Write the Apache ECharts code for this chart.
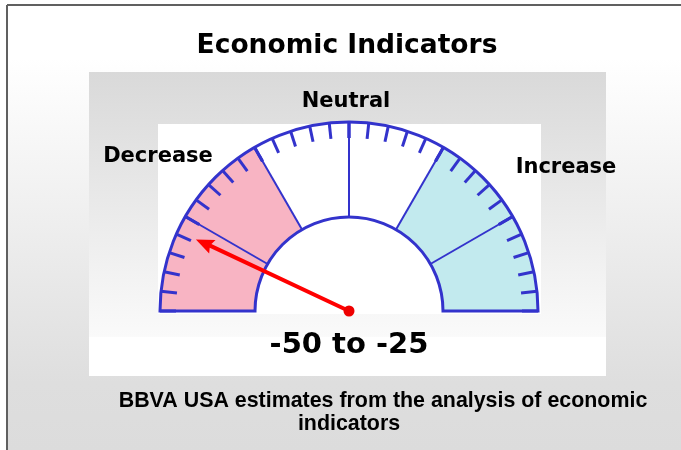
<!DOCTYPE html>
<html><head><meta charset="utf-8">
<script src="https://cdn.jsdelivr.net/npm/echarts@6/dist/echarts.min.js"></script>
<style>html,body{margin:0;padding:0;background:#fff;overflow:hidden}#c{width:681px;height:450px}</style>
</head><body><div id="c"></div>
<script>
const titleText = 'Economic Indicators';
const zoneLabels = ['Decrease', 'Neutral', 'Increase'];
const scaleMin = -75;
const scaleMax = 75;
const zoneEnds = [-25, 25, 75];
const zoneColors = ['#f8b4c3', '#ffffff', '#c2eaee'];
const majorSplits = 6;
const minorSplits = 5;
const needleValue = -54;
const rangeLabel = '-50 to -25';
const footnoteLines = ['BBVA USA estimates from the analysis of economic', 'indicators'];

const chart = echarts.init(document.getElementById('c'), null, {renderer: 'canvas'});
const blue = '#3333cc';
const cx = 349, cy = 311, R = 189, band = 95;
const stops = zoneEnds.map((v, i) => [(v - scaleMin) / (scaleMax - scaleMin), zoneColors[i]]);
const off = {show: false};
const base = {
  type: 'gauge', center: [cx, cy], radius: R, startAngle: 180, endAngle: 0,
  min: scaleMin, max: scaleMax, splitNumber: majorSplits
};
const vGrad = (stopsArr) => ({type: 'linear', x: 0, y: 0, x2: 0, y2: 1,
  colorStops: stopsArr.map(s => ({offset: s[0], color: s[1]}))});

chart.setOption({
  animation: false,
  graphic: [
    {type: 'rect', z: -10, shape: {x: 7, y: 5, width: 674, height: 445},
      style: {fill: vGrad([[0, '#ffffff'], [0.12, '#ffffff'], [0.85, '#dedede'], [1, '#dcdcdc']])}},
    {type: 'line', z: -9, shape: {x1: 7, y1: 5, x2: 7, y2: 450}, style: {stroke: '#606060', lineWidth: 2}},
    {type: 'line', z: -9, shape: {x1: 7, y1: 5, x2: 681, y2: 5}, style: {stroke: '#606060', lineWidth: 2}},
    {type: 'rect', z: -8, shape: {x: 89, y: 72, width: 517, height: 304},
      style: {fill: vGrad([[0, '#d9d9d9'], [0.87, '#fafafa'], [0.871, '#ffffff'], [1, '#ffffff']])}},
    {type: 'rect', z: -7, shape: {x: 158, y: 124, width: 383, height: 190}, style: {fill: '#ffffff'}},
    {type: 'text', z: 1, style: {text: titleText, x: 347, y: 46, textAlign: 'center', textVerticalAlign: 'middle',
      font: 'bold 26.5px "DejaVu Sans"', fill: '#000'}},
    {type: 'text', z: 1, style: {text: zoneLabels[1], x: 346, y: 102, textAlign: 'center', textVerticalAlign: 'middle',
      font: 'bold 21px "DejaVu Sans"', fill: '#000'}},
    {type: 'text', z: 1, style: {text: zoneLabels[0], x: 158, y: 157, textAlign: 'center', textVerticalAlign: 'middle',
      font: 'bold 21px "DejaVu Sans"', fill: '#000'}},
    {type: 'text', z: 1, style: {text: zoneLabels[2], x: 566, y: 168, textAlign: 'center', textVerticalAlign: 'middle',
      font: 'bold 21px "DejaVu Sans"', fill: '#000'}},
    {type: 'text', z: 1, style: {text: footnoteLines[0], x: 383, y: 401, textAlign: 'center', textVerticalAlign: 'middle',
      font: 'bold 21.4px "Liberation Sans"', fill: '#000'}},
    {type: 'text', z: 1, style: {text: footnoteLines[1], x: 349, y: 424, textAlign: 'center', textVerticalAlign: 'middle',
      font: 'bold 21.4px "Liberation Sans"', fill: '#000'}}
  ],
  series: [
    Object.assign({}, base, {
      z: 2,
      axisLine: {lineStyle: {width: band, color: stops}},
      splitLine: {distance: -band, length: band, lineStyle: {color: blue, width: 2}},
      axisTick: {splitNumber: minorSplits, distance: -band, length: 16, lineStyle: {color: blue, width: 3}},
      axisLabel: off, pointer: off, anchor: off, title: off, detail: off,
      data: [{value: needleValue}]
    }),
    Object.assign({}, base, {
      z: 3,
      progress: {show: true, width: band, roundCap: false,
        itemStyle: {color: 'rgba(0,0,0,0)', borderColor: blue, borderWidth: 3}},
      axisLine: off, splitLine: off, axisTick: off, axisLabel: off,
      pointer: off, anchor: off, title: off, detail: off,
      data: [{value: scaleMax}]
    }),
    Object.assign({}, base, {
      z: 4,
      axisLine: off, splitLine: off, axisTick: off, axisLabel: off, title: off,
      pointer: {show: true, icon: 'path://M7,0 L15,18 L9.5,16 L9.5,169 L5.5,169 L5.5,16 L0,18 Z',
        length: 169, width: 15, itemStyle: {color: '#ff0000'}},
      anchor: {show: true, showAbove: true, size: 11, itemStyle: {color: '#ee0000'}},
      detail: {show: true, formatter: () => rangeLabel, offsetCenter: [0, 34],
        fontSize: 29, fontWeight: 'bold', color: '#000',
        fontFamily: '"Comic Sans MS", "DejaVu Sans"'},
      data: [{value: needleValue}]
    })
  ]
});
</script></body></html>
